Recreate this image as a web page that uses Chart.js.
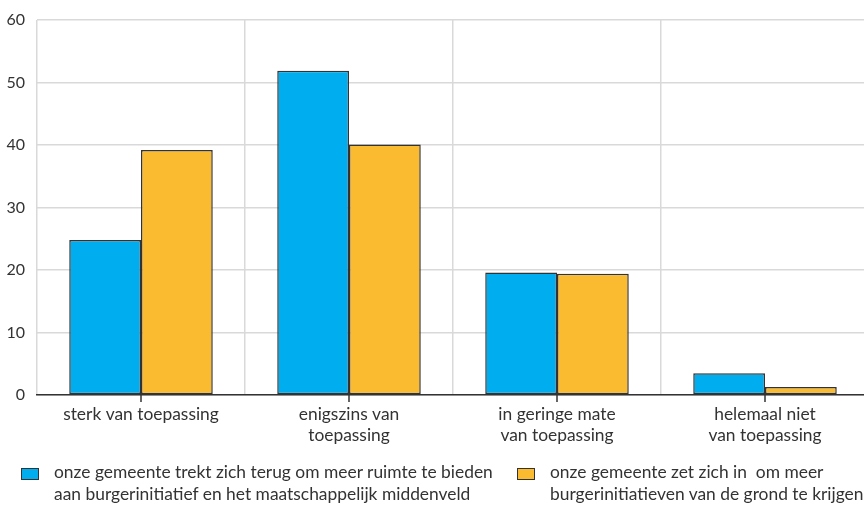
<!DOCTYPE html>
<html>
<head>
<meta charset="utf-8">
<script src="https://cdn.jsdelivr.net/npm/chart.js@4"></script>
<style>
  html, body { margin: 0; padding: 0; background: #fff; overflow: hidden; }
  #wrap { position: relative; width: 864px; height: 505px; overflow: hidden; }
  #chart { position: absolute; left: 0; top: 0; }
  .legend { position: absolute; top: 461px; font-family: Lato, sans-serif; font-size: 17.4px; color: #333; line-height: 22px; }
  .legend .box { position: absolute; left: 0; top: 7px; width: 18px; height: 12px; box-sizing: border-box; border: 1.5px solid #333; }
  .legend .txt { padding-left: 33px; white-space: nowrap; }
</style>
</head>
<body>
<div id="wrap">
  <canvas id="chart"></canvas>
  <div class="legend" style="left:21px"><span class="box" style="background:#00aeef"></span><div class="txt">onze gemeente trekt zich terug om meer ruimte te bieden<br>aan burgerinitiatief en het maatschappelijk middenveld</div></div>
  <div class="legend" style="left:517px"><span class="box" style="background:#fbbb30"></span><div class="txt">onze gemeente zet zich in&nbsp; om meer<br>burgerinitiatieven van de grond te krijgen</div></div>
</div>
<script>
// categorieën en waarden (procenten)
const categorieen = [
  ['sterk van toepassing'],
  ['enigszins van', 'toepassing'],
  ['in geringe mate', 'van toepassing'],
  ['helemaal niet', 'van toepassing']
];
const terugtrekken = [24.8, 51.9, 19.6, 3.5];
const inzetten = [39.2, 40.1, 19.4, 1.3];
const yTicks = [0, 10, 20, 30, 40, 50, 60];

// korte streepjes onder de as, midden van elke categorie
const middenStreepjes = {
  id: 'middenStreepjes',
  afterDraw(chart) {
    const x = chart.scales.x;
    const ctx = chart.ctx;
    ctx.save();
    ctx.strokeStyle = '#333';
    ctx.lineWidth = 1.5;
    x.ticks.forEach((t, i) => {
      const px = x.getPixelForTick(i);
      ctx.beginPath();
      ctx.moveTo(px, x.top);
      ctx.lineTo(px, x.top + 7);
      ctx.stroke();
    });
    ctx.restore();
  }
};

const canvas = document.getElementById('chart');
canvas.width = 869;
canvas.height = 505;

new Chart(canvas.getContext('2d'), {
  type: 'bar',
  data: {
    labels: categorieen,
    datasets: [
      {
        label: 'onze gemeente trekt zich terug om meer ruimte te bieden aan burgerinitiatief en het maatschappelijk middenveld',
        data: terugtrekken,
        backgroundColor: '#00aeef',
        borderColor: '#333',
        borderWidth: 1.5,
        borderSkipped: false
      },
      {
        label: 'onze gemeente zet zich in om meer burgerinitiatieven van de grond te krijgen',
        data: inzetten,
        backgroundColor: '#fbbb30',
        borderColor: '#333',
        borderWidth: 1.5,
        borderSkipped: false
      }
    ]
  },
  options: {
    responsive: false,
    animation: false,
    categoryPercentage: 0.69,
    barPercentage: 1,
    layout: { padding: { top: 8, right: 0, bottom: 60, left: 0 } },
    plugins: {
      legend: { display: false },
      tooltip: { enabled: false }
    },
    scales: {
      x: {
        grid: { offset: true, color: '#d9d9d9', lineWidth: 1.5, drawTicks: false },
        border: { color: '#333', width: 1.5 },
        ticks: {
          padding: 8,
          color: '#333',
          font: { family: 'Lato', size: 17.4, lineHeight: 1.26 },
          maxRotation: 0
        },
        afterFit(scale) { scale.height = 50; }
      },
      y: {
        min: 0,
        max: 60,
        afterBuildTicks(scale) { scale.ticks = yTicks.map(v => ({ value: v })); },
        grid: { color: '#d9d9d9', lineWidth: 1.5, drawTicks: false },
        border: { display: false },
        ticks: {
          padding: 12,
          color: '#333',
          font: { family: 'Lato', size: 16, lineHeight: 1 }
        },
        afterFit(scale) { scale.width = 37; }
      }
    }
  },
  plugins: [middenStreepjes]
});
</script>
</body>
</html>
